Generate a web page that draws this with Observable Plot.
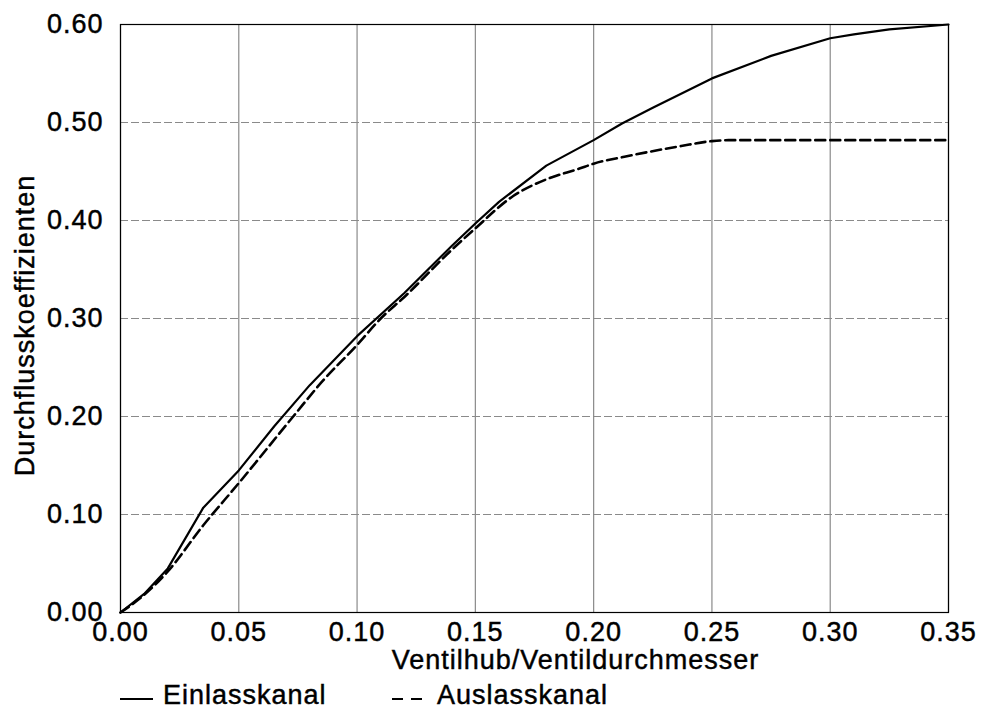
<!DOCTYPE html>
<html>
<head>
<meta charset="utf-8">
<script src="https://cdn.jsdelivr.net/npm/d3@7"></script>
<script src="https://cdn.jsdelivr.net/npm/@observablehq/plot@0.6"></script>
<style>
  html, body { margin: 0; padding: 0; background: #fff; }
  body { font-family: "Liberation Sans", Arial, sans-serif; color: #000; }
  #chart text { letter-spacing: 1px; stroke: #000; stroke-width: 0.45px; paint-order: stroke; }
  #legend { position: relative; width: 982px; height: 38px; font-size: 27px; letter-spacing: 1px; -webkit-text-stroke: 0.45px #000; }
  #legend .item { position: absolute; top: 0; height: 38px; line-height: 38px; white-space: nowrap; }
  #legend svg { position: absolute; top: 0; }
</style>
</head>
<body>
<div id="chart"></div>
<div id="legend"></div>
<script>
// Flow coefficient vs. valve lift / valve diameter
const xTicks = [0, 0.05, 0.10, 0.15, 0.20, 0.25, 0.30, 0.35];
const yTicks = [0, 0.10, 0.20, 0.30, 0.40, 0.50, 0.60];

// Intake port (solid)
const einlassX = [0, 0.010, 0.020, 0.035, 0.050, 0.065, 0.080, 0.100, 0.120, 0.140, 0.150, 0.160, 0.180, 0.200, 0.212, 0.225, 0.250, 0.275, 0.300, 0.310, 0.325, 0.350];
const einlassY = [0, 0.019, 0.045, 0.107, 0.145, 0.190, 0.232, 0.282, 0.326, 0.374, 0.397, 0.419, 0.456, 0.482, 0.499, 0.515, 0.545, 0.568, 0.586, 0.590, 0.595, 0.600];

// Exhaust port (dashed)
const auslassX = [0, 0.010, 0.020, 0.035, 0.050, 0.073, 0.085, 0.100, 0.110, 0.120, 0.140, 0.150, 0.166, 0.180, 0.194, 0.200, 0.213, 0.237, 0.250, 0.257, 0.350];
const auslassY = [0, 0.018, 0.042, 0.089, 0.132, 0.200, 0.235, 0.273, 0.300, 0.322, 0.370, 0.392, 0.425, 0.442, 0.453, 0.458, 0.465, 0.476, 0.481, 0.482, 0.482];

const series = ["Einlasskanal", "Auslasskanal"];
const xLabel = "Ventilhub/Ventildurchmesser";
const yLabel = "Durchflusskoeffizienten";

const einlass = einlassX.map((x, i) => ({x, y: einlassY[i]}));
const auslass = auslassX.map((x, i) => ({x, y: auslassY[i]}));
const fmt = d3.format(".2f");
const gridColor = "#8a8a8a";

const chart = Plot.plot({
  width: 982,
  height: 676,
  marginLeft: 120,
  marginRight: 34,
  marginTop: 24,
  marginBottom: 64,
  style: {fontFamily: "'Liberation Sans', Arial, sans-serif", fontSize: "27px", color: "#000", background: "#fff", overflow: "visible"},
  x: {domain: [0, 0.35]},
  y: {domain: [0, 0.6]},
  marks: [
    Plot.gridX(xTicks, {stroke: gridColor, strokeOpacity: 1, strokeWidth: 1.2}),
    Plot.gridY(yTicks, {stroke: gridColor, strokeOpacity: 1, strokeWidth: 1.2, strokeDasharray: "8,3"}),
    Plot.frame({stroke: "#000", strokeWidth: 1.2}),
    Plot.line(auslass, {x: "x", y: "y", curve: "monotone-x", stroke: "#000", strokeWidth: 2.6, strokeDasharray: "10,5"}),
    Plot.line(einlass, {x: "x", y: "y", stroke: "#000", strokeWidth: 2.2}),
    Plot.axisX(xTicks, {tickSize: 0, tickPadding: 9, tickFormat: fmt, label: null, fontSize: 27}),
    Plot.axisY(yTicks, {tickSize: 0, tickPadding: 17, tickFormat: fmt, label: null, fontSize: 27}),
    Plot.text([xLabel], {frameAnchor: "bottom", text: d => d, textAnchor: "middle", lineAnchor: "middle", dx: 41, dy: 48, fontSize: 27, fill: "#000"}),
    Plot.text([yLabel], {frameAnchor: "left", text: d => d, textAnchor: "middle", lineAnchor: "middle", dx: -95, dy: 7, rotate: -90, fontSize: 27, fill: "#000"})
  ]
});
document.getElementById("chart").appendChild(chart);

// Legend below the chart
const legend = document.getElementById("legend");
const styles = [{dash: null, x: 120, w: 33, tx: 163}, {dash: "11,8", x: 392, w: 30, tx: 437}];
series.forEach((name, i) => {
  const s = styles[i];
  const svg = d3.select(legend).append("svg")
    .attr("width", s.w).attr("height", 38)
    .style("left", s.x + "px");
  svg.append("line")
    .attr("x1", 0).attr("x2", s.w).attr("y1", 23).attr("y2", 23)
    .attr("stroke", "#000").attr("stroke-width", 2)
    .attr("stroke-dasharray", s.dash);
  d3.select(legend).append("span")
    .attr("class", "item")
    .style("left", s.tx + "px")
    .text(name);
});
</script>
</body>
</html>
